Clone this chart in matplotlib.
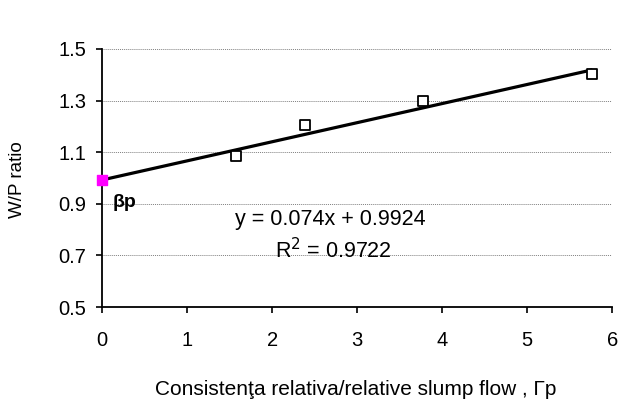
import matplotlib
matplotlib.use("Agg")
import matplotlib.pyplot as plt
import numpy as np

plt.rcParams['font.family'] = ['Liberation Sans', 'DejaVu Sans']

# date masurate
gamma_p = [1.58, 2.39, 3.78, 5.76]
wp_ratio = [1.085, 1.205, 1.30, 1.403]

# dreapta de regresie
slope = 0.074
intercept = 0.9924
beta_p = 0.9924
x_fit = [0, 5.75]

yticks = [0.5, 0.7, 0.9, 1.1, 1.3, 1.5]
xticks = [0, 1, 2, 3, 4, 5, 6]

fig = plt.figure(figsize=(6.19, 4.08), dpi=100)
ax = fig.add_axes([0.165, 0.2475, 0.824, 0.6325])

# linii de grila
for yv in yticks[1:]:
    ax.axhline(yv, color='#808080', linewidth=0.7, linestyle=(0, (1, 1)), zorder=0)

xf = np.array(x_fit)
ax.plot(xf, slope * xf + intercept, color='black', linewidth=2.3, zorder=2)
ax.scatter(gamma_p, wp_ratio, marker='s', s=55, facecolor='white',
           edgecolor='black', linewidth=1.3, zorder=3)
ax.scatter([0], [beta_p], marker='s', s=60, color='#ff00ff', zorder=4, clip_on=False)

ax.text(0.12, 0.905, 'βp', fontsize=14, fontweight='bold', ha='left', va='center')
ax.text(2.69, 0.841, 'y = 0.074x + 0.9924', fontsize=15.5, ha='center', va='center')
ax.text(2.72, 0.717, 'R$^2$ = 0.9722', fontsize=15.5, ha='center', va='center')

ax.set_xlim(0, 6)
ax.set_ylim(0.5, 1.5)
ax.set_xticks(xticks)
ax.set_yticks(yticks)
ax.set_yticklabels([f'{v:.1f}' for v in yticks])
ax.tick_params(labelsize=14.5, direction='out', length=4.5, width=1.2)
ax.tick_params(axis='y', pad=7)
ax.tick_params(axis='x', pad=13)

for s in ['top', 'right']:
    ax.spines[s].set_visible(False)
for s in ['left', 'bottom']:
    ax.spines[s].set_linewidth(1.3)

fig.text(0.029, 0.56, 'W/P ratio', fontsize=13.5, rotation=90, ha='center', va='center')
fig.text(0.574, 0.045, 'Consistenţa relativa/relative slump flow , Γp', fontsize=15,
         ha='center', va='center')

fig.savefig('out.png', dpi=100)
